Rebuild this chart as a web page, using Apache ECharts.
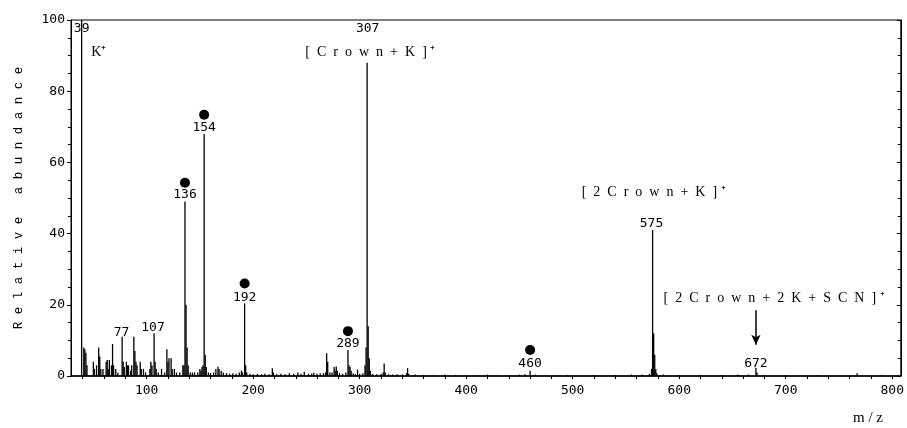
<!DOCTYPE html>
<html>
<head>
<meta charset="utf-8">
<script src="https://cdn.jsdelivr.net/npm/echarts@6/dist/echarts.min.js"></script>
<style>
  html, body { margin: 0; padding: 0; background: #fff; }
  #chart { width: 907px; height: 428px; }
</style>
</head>
<body>
<div id="chart"></div>
<script>
// spectrum peaks: m/z and relative abundance
const peakMz = [39, 41, 42, 43, 44, 50, 51, 53, 55, 56, 57, 59, 62, 63, 64, 65, 67, 68, 69, 71, 73,
  77, 78, 79, 81, 82, 83, 85, 86, 88, 89, 90, 91, 94, 95, 97, 99, 103, 104, 105, 107, 108, 109, 111,
  114, 117, 119, 120, 121, 123, 124, 126, 128, 131, 134, 135, 136, 137, 138, 139, 141, 143, 145, 148,
  150, 151, 152, 153, 154, 155, 156, 158, 160, 163, 165, 167, 168, 170, 172, 175, 178, 181, 184, 187,
  189, 190, 192, 193, 194, 197, 200, 204, 208, 211, 215, 218, 219, 222, 226, 230, 234, 238, 242, 245,
  248, 252, 255, 257, 260, 263, 266, 268, 269, 270, 272, 274, 276, 277, 278, 279, 281, 284, 287, 289,
  290, 291, 292, 294, 296, 298, 300, 303, 305, 306, 307, 308, 309, 310, 312, 316, 320, 322, 323, 324,
  327, 331, 335, 340, 344, 345, 346, 352, 360, 370, 380, 390, 400, 410, 420, 430, 440, 450, 455, 460,
  465, 475, 485, 495, 520, 540, 555, 565, 572, 574, 575, 576, 577, 578, 579, 585, 600, 620, 640, 655,
  665, 672, 673, 680, 700, 730, 767, 790];
const peakVal = [100, 8, 7.5, 6.5, 3, 4, 2, 3, 8, 5.5, 2, 2, 4, 4.5, 2, 4.5, 3, 9, 3, 2, 1,
  11, 4, 2.5, 4, 3, 3, 1.5, 3, 11, 7, 4, 3, 4, 2, 2, 1, 2, 4, 3, 12, 4, 2, 1,
  2, 1, 7.5, 4, 5, 5, 2, 2, 1, 1, 3, 3, 49, 20, 8, 3, 1, 1, 1, 1,
  2, 1.5, 2.5, 3, 68, 6, 2.5, 1, 0.8, 1, 2, 2.6, 2, 1.5, 1, 0.8, 0.6, 0.8, 0.6, 1,
  1.5, 1, 20.4, 3, 1, 0.6, 0.5, 0.6, 0.5, 0.6, 0.5, 2.2, 1, 0.5, 0.6, 0.5, 0.8, 0.6, 1, 0.6,
  1.2, 0.6, 0.7, 0.9, 0.6, 0.8, 0.8, 1, 6.4, 4, 1, 1, 2.5, 1.5, 2.7, 1.5, 0.8, 0.6, 1, 7.3,
  3, 2.5, 1.5, 0.8, 0.5, 1.8, 0.6, 0.8, 3, 8, 88, 14, 5, 1.5, 0.6, 0.5, 0.6, 1, 3.5, 1,
  0.5, 0.4, 0.5, 0.4, 0.8, 2.2, 0.6, 0.4, 0.3, 0.3, 0.4, 0.3, 0.3, 0.3, 0.4, 0.3, 0.3, 0.4, 0.5, 1.5,
  0.4, 0.3, 0.3, 0.3, 0.3, 0.3, 0.4, 0.4, 0.6, 2, 41, 12, 6, 2, 0.8, 0.4, 0.3, 0.3, 0.3, 0.4,
  0.4, 2.3, 1, 0.3, 0.3, 0.3, 0.8, 0.3];

// filled circle markers
const dotMz = [136, 154, 192, 289, 460];
const dotVal = [54.3, 73.4, 26, 12.6, 7.3];

// peak number labels
const labelText = ['39', '77', '107', '136', '154', '192', '289', '307', '460', '575', '672'];
const labelMz = [39, 76.5, 106, 136, 154, 192, 289, 307.5, 460, 574, 672];
const labelVal = [97.5, 12.3, 13.7, 51, 69.7, 22.1, 9.2, 97.5, 3.6, 42.9, 3.6];

// ion annotations
const noteText = ['K⁺', '[Crown+K]', '[2Crown+K]', '[2Crown+2K+SCN]'];
const noteMz = [55, 310, 576, 689];
const noteVal = [90.8, 90.8, 51.5, 21.8];

// axis ticks
const xLabelVals = [100, 200, 300, 400, 500, 600, 700, 800];
const xTickVals = [];
for (let v = 40; v <= 800; v += 20) xTickVals.push(v);

const spaced = s => s.split('').join('\u2002');

const chart = echarts.init(document.getElementById('chart'));

const monoFont = 'DejaVu Sans Mono';
const serifFont = 'Liberation Serif';

const option = {
  animation: false,
  backgroundColor: '#fff',
  grid: {
    left: 71, right: 5, top: 20, bottom: 52,
    show: true, borderColor: '#000', borderWidth: 1
  },
  xAxis: {
    type: 'value',
    min: 29,
    max: 808,
    splitLine: { show: false },
    axisLine: { onZero: false, lineStyle: { color: '#000', width: 1.5 } },
    axisTick: { customValues: xTickVals, length: 3, lineStyle: { color: '#000' } },
    axisLabel: {
      customValues: xLabelVals,
      fontFamily: monoFont, fontSize: 13, color: '#000', margin: 8
    }
  },
  yAxis: [
    {
      type: 'value',
      min: 0, max: 100, interval: 20,
      splitLine: { show: false },
      axisLine: { show: true, lineStyle: { color: '#000' } },
      axisTick: { show: true, length: 4, lineStyle: { color: '#000' } },
      minorTick: { show: true, splitNumber: 4, length: 3, lineStyle: { color: '#000' } },
      axisLabel: { fontFamily: monoFont, fontSize: 13, color: '#000', margin: 6 },
      name: 'R e l a t i v e   a b u n d a n c e',
      nameLocation: 'middle',
      nameGap: 46,
      nameTextStyle: { fontFamily: 'Liberation Mono', fontSize: 12.5, color: '#000' }
    },
    {
      type: 'value',
      position: 'right',
      min: 0, max: 100, interval: 20,
      splitLine: { show: false },
      axisLine: { show: true, lineStyle: { color: '#000' } },
      axisTick: { show: true, inside: true, length: 4, lineStyle: { color: '#000' } },
      minorTick: { show: true, splitNumber: 4, length: 3, lineStyle: { color: '#000' } },
      axisLabel: { show: false }
    }
  ],
  series: [
    {
      type: 'bar',
      barWidth: 1.3,
      itemStyle: { color: '#000' },
      data: peakMz.map((m, i) => [m, peakVal[i]])
    },
    {
      type: 'scatter',
      symbol: 'circle',
      symbolSize: 10,
      itemStyle: { color: '#000', opacity: 1 },
      data: dotMz.map((m, i) => [m, dotVal[i]])
    },
    {
      type: 'scatter',
      symbolSize: 0,
      silent: true,
      itemStyle: { opacity: 1 },
      label: {
        show: true, position: 'inside', formatter: '{b}',
        fontFamily: monoFont, fontSize: 13, color: '#000'
      },
      data: labelText.map((t, i) => ({ name: t, value: [labelMz[i], labelVal[i]] }))
    },
    {
      type: 'scatter',
      symbolSize: 0,
      silent: true,
      itemStyle: { opacity: 1 },
      label: {
        show: true, position: 'inside', formatter: '{b}',
        fontFamily: serifFont, fontSize: 14, color: '#000'
      },
      data: noteText.map((t, i) => ({
        name: i === 0 ? t : spaced(t) + ' ⁺',
        value: [noteMz[i], noteVal[i]]
      })),
      markLine: {
        silent: true,
        symbol: ['none', 'arrow'],
        symbolSize: [7, 10],
        label: { show: false },
        lineStyle: { color: '#000', width: 1.5, type: 'solid', opacity: 1 },
        data: [[{ coord: [672, 18.5] }, { coord: [672, 8.8] }]]
      }
    }
  ],
  graphic: [
    {
      type: 'text',
      left: 853,
      top: 411,
      style: { text: 'm / z', font: '15px "Liberation Serif"', fill: '#000' }
    }
  ]
};

chart.setOption(option);
</script>
</body>
</html>
